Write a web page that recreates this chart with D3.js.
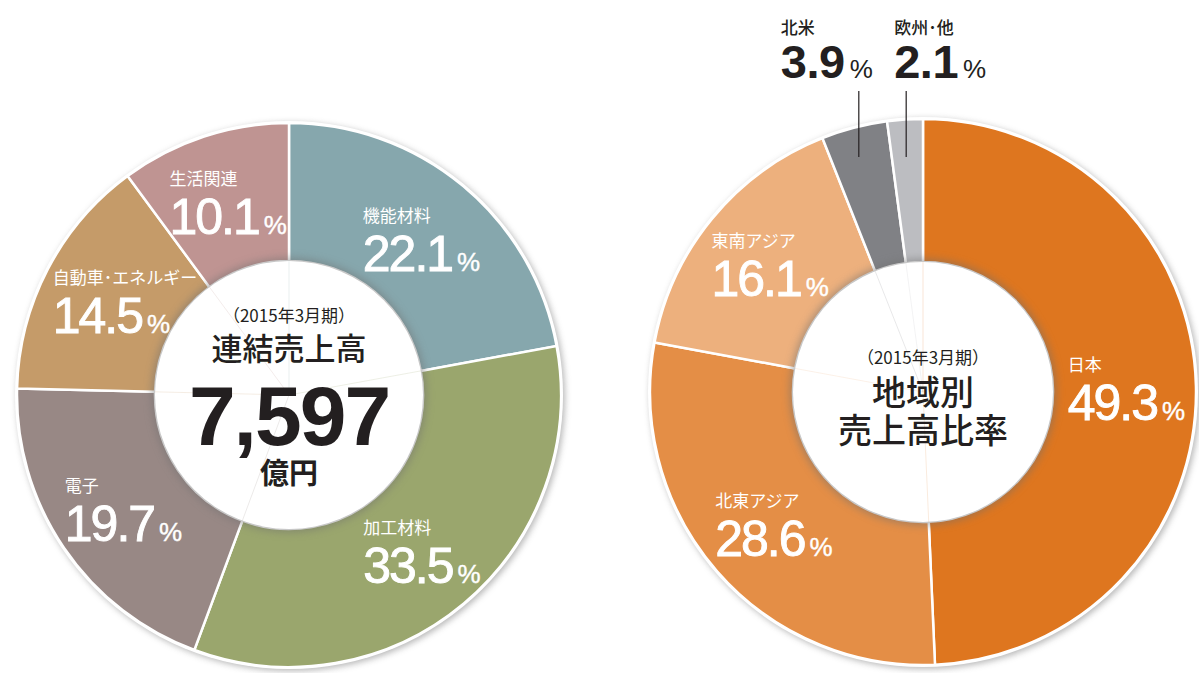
<!DOCTYPE html>
<html>
<head>
<meta charset="utf-8">
<script src="https://cdn.jsdelivr.net/npm/d3@7/dist/d3.min.js"></script>
<style>
  body { margin: 0; background: #fff; }
  svg text { font-family: "Noto Sans CJK JP", sans-serif; }
  .num { font-family: "Liberation Sans", Arial, sans-serif; }
</style>
</head>
<body>
<script>
// segment shares (left donut)
const segCategories = ["機能材料", "加工材料", "電子", "自動車･エネルギー", "生活関連"];
const segValues = [22.1, 33.5, 19.7, 14.5, 10.1];
const segColors = ["#86a7ad", "#9aa66d", "#988885", "#c59b69", "#bf9492"];

// regional shares (right donut)
const regCategories = ["日本", "北東アジア", "東南アジア", "北米", "欧州･他"];
const regValues = [49.3, 28.6, 16.1, 3.9, 2.1];
const regColors = ["#de761f", "#e48e46", "#edb07d", "#808185", "#bcbdc1"];

const periodLabel = "（2015年3月期）";
const leftTitle = "連結売上高";
const totalValue = "7,597";
const totalUnit = "億円";
const rightTitle = ["地域別", "売上高比率"];

const W = 1199, H = 673;
const svg = d3.select("body").append("svg")
  .attr("width", W).attr("height", H);

const defs = svg.append("defs");
defs.append("filter").attr("id", "outerShadow")
  .attr("x", "-20%").attr("y", "-20%").attr("width", "140%").attr("height", "140%")
  .append("feGaussianBlur").attr("stdDeviation", 3);
defs.append("filter").attr("id", "holeShadow")
  .attr("x", "-20%").attr("y", "-20%").attr("width", "140%").attr("height", "140%")
  .append("feGaussianBlur").attr("stdDeviation", 4);

function drawDonut(opts) {
  const g = svg.append("g").attr("transform", `translate(${opts.cx},${opts.cy})`);
  const pie = d3.pie().sort(null).value(d => d);
  const arcs = pie(opts.values);
  const arc = d3.arc().innerRadius(opts.inner).outerRadius(opts.outer);

  // shadow + white rim behind the ring
  g.append("circle").attr("cx", 2).attr("cy", 2).attr("r", opts.outer + 2)
    .attr("fill", "#9a9a9a").attr("opacity", 0.7).attr("filter", "url(#outerShadow)");
  g.append("circle").attr("r", opts.outer + 2).attr("fill", "#fff");

  g.selectAll("path.slice").data(arcs).enter().append("path")
    .attr("class", "slice")
    .attr("d", arc)
    .attr("fill", (d, i) => opts.colors[i])
    .attr("stroke", "#fff")
    .attr("stroke-width", 2.5)
    .attr("stroke-linejoin", "miter");

  // soft shadow around the centre hole
  g.append("circle").attr("r", opts.inner + 3)
    .attr("fill", "#6f6f6f").attr("opacity", 0.55).attr("filter", "url(#holeShadow)");
  g.append("circle").attr("r", opts.inner).attr("fill", "#fff");

  // faint separators continuing inside the hole
  g.selectAll("line.sep").data(arcs).enter().append("line")
    .attr("class", "sep")
    .attr("x1", 0).attr("y1", 0)
    .attr("x2", d => Math.sin(d.startAngle) * opts.inner)
    .attr("y2", d => -Math.cos(d.startAngle) * opts.inner)
    .attr("stroke", (d, i) => opts.colors[i])
    .attr("stroke-opacity", 0.18)
    .attr("stroke-width", 1);

  const labelArc = d3.arc().innerRadius(opts.labelR).outerRadius(opts.labelR);

  arcs.forEach((d, i) => {
    const outside = opts.values[i] < 5;
    const lg = g.append("g");
    const color = outside ? "#231f20" : "#fff";
    const name = lg.append("text")
      .attr("fill", color)
      .attr("font-size", 17)
      .attr("font-weight", outside ? 500 : 400)
      .text(opts.categories[i]);
    const num = lg.append("text")
      .attr("class", "num")
      .attr("fill", color)
      .attr("font-weight", outside ? 700 : 400)
      .attr("stroke", outside ? "none" : color)
      .attr("stroke-width", 0.9);
    num.append("tspan")
      .attr("font-size", outside ? 47 : 50)
      .attr("letter-spacing", outside ? -0.5 : -2)
      .text(d3.format(".1f")(opts.values[i]));
    num.append("tspan")
      .attr("font-size", 26)
      .attr("font-weight", 400)
      .attr("stroke-width", outside ? 0 : 0.4)
      .attr("dx", 5)
      .text("%");

    const w = num.node().getComputedTextLength();
    if (outside) {
      const mid = (d.startAngle + d.endAngle) / 2;
      const lx = Math.sin(mid) * (opts.outer - 18);
      const yTop = -opts.outer - 28, yBot = -opts.outer + 38;
      g.append("line")
        .attr("x1", lx).attr("x2", lx).attr("y1", yTop).attr("y2", yBot)
        .attr("stroke", "#231f20").attr("stroke-width", 1.2);
      const left = opts.values[i] > 3 ? lx + 9 - w : lx - 12;
      name.attr("x", left).attr("y", yTop - 57);
      num.attr("x", left).attr("y", yTop - 13);
    } else {
      const [px, py] = labelArc.centroid(d);
      const left = px - w / 2;
      name.attr("x", left).attr("y", py - 17);
      num.attr("x", left).attr("y", py + 32);
    }
  });
  return g;
}

const gl = drawDonut({
  cx: 289, cy: 395, outer: 272, inner: 134, labelR: 203,
  values: segValues, categories: segCategories, colors: segColors
});
gl.append("text").attr("text-anchor", "middle").attr("y", -73)
  .attr("font-size", 17).attr("fill", "#231f20").text(periodLabel);
gl.append("text").attr("text-anchor", "middle").attr("y", -35)
  .attr("font-size", 31).attr("font-weight", 500).attr("fill", "#231f20").text(leftTitle);
gl.append("text").attr("class", "num").attr("text-anchor", "middle").attr("y", 50)
  .attr("font-size", 84).attr("font-weight", 700).attr("letter-spacing", -2)
  .attr("fill", "#231f20").text(totalValue);
gl.append("text").attr("text-anchor", "middle").attr("y", 89)
  .attr("font-size", 29).attr("font-weight", 700).attr("fill", "#231f20").text(totalUnit);

const gr = drawDonut({
  cx: 923, cy: 392, outer: 273, inner: 130, labelR: 201,
  values: regValues, categories: regCategories, colors: regColors
});
gr.append("text").attr("text-anchor", "middle").attr("y", -28)
  .attr("font-size", 17).attr("fill", "#231f20").text(periodLabel);
rightTitle.forEach((t, i) => {
  gr.append("text").attr("text-anchor", "middle").attr("y", 13 + i * 38)
    .attr("font-size", 34).attr("font-weight", 500).attr("fill", "#231f20").text(t);
});
</script>
</body>
</html>
